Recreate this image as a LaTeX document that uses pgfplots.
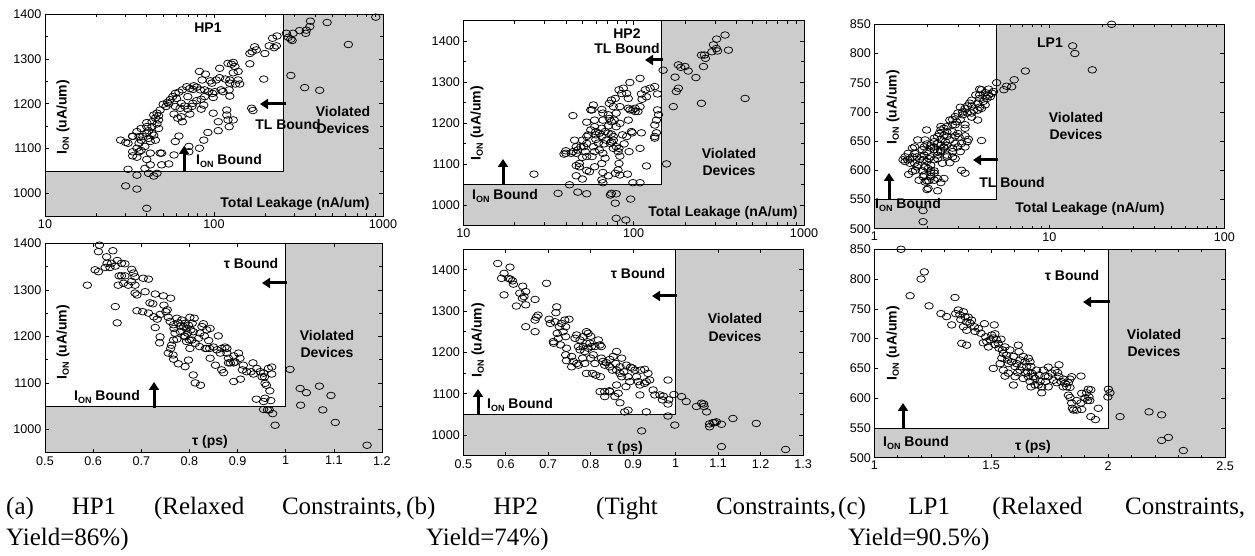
\documentclass[border=0pt]{standalone}
\usepackage{fontspec}
\setmainfont{Liberation Sans}
\newfontfamily\capfont{Liberation Serif}
\usepackage{pgfplots}
\pgfplotsset{compat=1.18}
\usetikzlibrary{arrows.meta}
\definecolor{shade}{gray}{0.80}
\newcommand\ann{\fontsize{14}{16}\selectfont\bfseries}
\newcommand\ION{I\raisebox{-0.3ex}{\fontsize{9}{9}\selectfont ON}}
\newcommand\capsty{\capfont\fontsize{25}{31}\selectfont}
\tikzset{arr/.style={-{Triangle[length=8pt,width=10pt]}, line width=3pt}}
\pgfplotsset{
  panel/.style={
    scale only axis,
    anchor=south west,
    axis on top,
    axis background/.style={fill=shade},
    tick align=inside,
    major tick length=4pt,
    minor tick length=3pt,
    tick style={black, line width=0.6pt},
    axis line style={line width=0.8pt},
    ticklabel style={font=\fontsize{12.6}{14}\selectfont},
    /pgf/number format/assume math mode=true,
    /pgf/number format/1000 sep={},
    clip mode=individual,
  },
  pts/.style={only marks, mark=o, mark size=3.3pt,
    mark options={xscale=1.3, line width=0.75pt, black}},
  white box/.style={fill=white, draw=none, mark=none},
  bnd/.style={black, line width=0.8pt, mark=none},
}
\begin{document}
\begin{tikzpicture}[x=1pt,y=1pt]
\useasboundingbox (0pt,0pt) rectangle (1255pt,556pt);
%================ A1
\begin{axis}[panel, at={(45pt,340pt)}, width=338pt, height=202pt,
  xmode=log, xmin=10, xmax=1000, ymin=950, ymax=1400,
  log ticks with fixed point, xtick={10,100,1000},
  ytick={1000,1100,1200,1300,1400}, minor y tick num=1]
\addplot[white box] coordinates {(10,1050)(259,1050)(259,1400)(10,1400)(10,1050)};
\addplot[bnd] coordinates {(10,1050)(259,1050)(259,1400)};
\addplot[pts] coordinates {
(906,1393)(467,1381)(372,1384)(369,1372)(349,1357)(352,1364)(321,1363)(294,1357)(268,1357)(275,1348)(285,1344)(290,1341)(624,1332)(285,1263)(344,1236)(422,1230)(236,1351)(222,1346)(234,1329)(212,1329)(227,1325)(200,1312)(174,1327)(168,1316)(163,1312)(178,1320)(163,1289)(197,1255)(167,1190)(170,1185)(130,1292)(127,1288)(121,1290)(133,1283)(139,1272)(130,1269)(139,1253)(134,1244)(142,1244)(124,1246)(123,1231)(108,1279)(117,1255)(108,1258)(124,1253)(103,1253)(101,1227)(110,1231)(113,1227)(124,1217)(119,1186)(119,1175)(121,1164)(130,1164)(123,1149)(106,1140)(92,1136)(82,1101)(87,1119)(106,1160)(99,1179)(97,1246)(89,1266)(95,1251)(82,1272)(85,1253)(79,1237)(75,1232)(83,1231)(88,1231)(93,1227)(98,1223)(99,1214)(88,1216)(84,1210)(79,1207)(75,1201)(74,1194)(70,1188)(84,1188)(87,1197)(72,1177)(67,1195)(64,1201)(70,1216)(72,1234)(76,1240)(69,1238)(65,1231)(62,1226)(59,1223)(57,1216)(60,1212)(55,1209)(53,1203)(54,1200)(59,1194)(63,1190)(58,1177)(61,1168)(65,1160)(64,1171)(62,1128)(59,1116)(58,1086)(71,1093)(71,1105)(50,1199)(52,1194)(48,1186)(46,1179)(47,1173)(44,1175)(45,1168)(47,1164)(46,1155)(43,1160)(43,1149)(47,1145)(41,1140)(40,1134)(38,1127)(41,1123)(44,1130)(45,1119)(36,1127)(37,1119)(36,1112)(39,1105)(35,1101)(37,1096)(33,1093)(33,1084)(35,1081)(36,1093)(33,1127)(35,1138)(37,1145)(40,1149)(40,1158)(43,1134)(42,1116)(31,1112)(30,1114)(28,1119)(33,1128)(42,1090)(48,1090)(40,1076)(42,1064)(39,1056)(41,1045)(44,1039)(46,1045)(35,1041)(31,1054)(30,1017)(35,1010)(40,967)(49,1064)(54,1066)(49,1090)
};
\end{axis}
%================ A2
\begin{axis}[panel, at={(45pt,103.3pt)}, width=337pt, height=209.4pt,
  xmin=0.5, xmax=1.2, ymin=950, ymax=1400,
  xtick={0.5,0.6,0.7,0.8,0.9,1,1.1,1.2},
  ytick={1000,1100,1200,1300,1400}, minor y tick num=1]
\addplot[white box] coordinates {(0.5,1050)(1,1050)(1,1400)(0.5,1400)(0.5,1050)};
\addplot[bnd] coordinates {(0.5,1050)(1,1050)(1,1400)};
\addplot[pts] coordinates {
(0.613,1396)(0.611,1382)(0.641,1384)(0.604,1343)(0.611,1339)(0.588,1310)(0.628,1371)(0.629,1357)(0.638,1357)(0.625,1348)(0.635,1348)(0.646,1351)(0.650,1363)(0.659,1357)(0.666,1356)(0.654,1330)(0.659,1330)(0.666,1330)(0.652,1310)(0.663,1314)(0.673,1310)(0.680,1344)(0.684,1336)(0.687,1328)(0.680,1318)(0.687,1310)(0.704,1325)(0.715,1323)(0.646,1264)(0.650,1229)(0.687,1293)(0.691,1289)(0.708,1296)(0.729,1291)(0.746,1287)(0.761,1282)(0.691,1255)(0.703,1253)(0.718,1272)(0.724,1270)(0.715,1250)(0.726,1242)(0.733,1237)(0.729,1219)(0.739,1247)(0.747,1267)(0.751,1253)(0.756,1241)(0.754,1257)(0.760,1232)(0.767,1225)(0.768,1217)(0.774,1239)(0.777,1229)(0.781,1222)(0.784,1235)(0.788,1221)(0.791,1228)(0.793,1217)(0.798,1224)(0.801,1241)(0.803,1214)(0.806,1228)(0.808,1210)(0.810,1239)(0.796,1207)(0.789,1201)(0.781,1210)(0.770,1207)(0.774,1194)(0.767,1192)(0.763,1181)(0.761,1174)(0.756,1164)(0.766,1160)(0.767,1151)(0.777,1141)(0.739,1199)(0.738,1186)(0.791,1199)(0.794,1189)(0.800,1192)(0.805,1192)(0.801,1174)(0.812,1185)(0.819,1196)(0.822,1207)(0.826,1221)(0.829,1227)(0.836,1214)(0.843,1217)(0.831,1201)(0.840,1191)(0.821,1178)(0.833,1174)(0.836,1174)(0.842,1174)(0.850,1177)(0.857,1171)(0.860,1201)(0.867,1174)(0.874,1177)(0.878,1174)(0.864,1164)(0.878,1164)(0.881,1153)(0.892,1158)(0.885,1143)(0.881,1143)(0.892,1143)(0.905,1153)(0.902,1164)(0.895,1145)(0.912,1138)(0.932,1143)(0.940,1131)(0.919,1124)(0.928,1124)(0.933,1119)(0.947,1124)(0.954,1121)(0.951,1113)(0.956,1113)(0.964,1131)(0.971,1134)(0.971,1119)(0.957,1099)(0.960,1095)(0.967,1083)(0.939,1065)(0.954,1060)(0.957,1067)(0.969,1062)(0.954,1043)(0.962,1042)(0.966,1042)(0.973,1034)(0.978,1009)(1.009,1129)(1.030,1088)(1.043,1079)(1.070,1093)(1.094,1073)(1.031,1052)(1.077,1042)(1.103,1015)(1.169,966)(0.808,1117)(0.812,1100)(0.823,1095)(0.798,1149)(0.791,1135)(0.906,1108)(0.892,1103)(0.867,1128)(0.871,1122)(0.910,1128)(0.854,1138)(0.843,1153)
};
\end{axis}
%================ B1
\begin{axis}[panel, at={(463.3pt,330.7pt)}, width=340.7pt, height=204.6pt,
  xmode=log, xmin=10, xmax=1000, ymin=950, ymax=1450,
  log ticks with fixed point, xtick={10,100,1000},
  ytick={1000,1100,1200,1300,1400}, minor y tick num=1]
\addplot[white box] coordinates {(10,1050)(146,1050)(146,1450)(10,1450)(10,1050)};
\addplot[bnd] coordinates {(10,1050)(146,1050)(146,1450)};
\addplot[pts] coordinates {
(344,1415)(307,1405)(360,1378)(306,1382)(294,1391)(288,1374)(311,1376)(250,1366)(260,1366)(264,1358)(257,1338)(232,1311)(451,1260)(250,1248)(200,1338)(183,1342)(189,1336)(209,1327)(175,1312)(183,1285)(178,1277)(171,1240)(156,1100)(149,1329)(109,1309)(133,1289)(138,1271)(125,1285)(117,1281)(111,1271)(119,1264)(112,1258)(109,1240)(102,1236)(106,1228)(138,1232)(140,1220)(136,1207)(133,1195)(136,1176)(133,1167)(133,1163)(111,1176)(109,1138)(119,1095)(109,1054)(99,1054)(95,1299)(87,1285)(91,1272)(93,1260)(82,1281)(85,1272)(93,1236)(95,1232)(99,1232)(102,1228)(93,1207)(97,1179)(98,1176)(91,1167)(88,1149)(94,1130)(83,1119)(82,1101)(92,1075)(83,1073)(81,1085)(78,1077)(96,1014)(78,1004)(79,967)(90,963)(73,1024)(66,1079)(65,1061)(66,1054)(71,1071)(74,1028)(79,1027)(79,1142)(82,1138)(76,1138)(81,1130)(74,1154)(86,1171)(76,1167)(79,1191)(83,1199)(77,1207)(79,1224)(83,1240)(76,1240)(72,1248)(74,1256)(78,1260)(71,1220)(72,1211)(74,1203)(71,1193)(68,1179)(71,1175)(74,1173)(76,1158)(69,1158)(73,1150)(65,1167)(67,1149)(63,1134)(66,1126)(68,1114)(65,1101)(59,1093)(57,1118)(59,1130)(58,1142)(62,1151)(60,1160)(63,1175)(65,1187)(59,1191)(60,1179)(59,1207)(66,1207)(66,1224)(65,1233)(57,1232)(58,1244)(60,1171)(54,1171)(56,1183)(53,1167)(53,1150)(50,1158)(51,1142)(52,1130)(53,1118)(53,1202)(56,1232)(49,1142)(47,1134)(46,1126)(46,1142)(44,1130)(50,1116)(48,1093)(46,1096)(48,1101)(46,1071)(55,1081)(53,1084)(50,1063)(43,1126)(40,1126)(39,1124)(40,1132)(45,1158)(44,1218)(42,1049)(47,1031)(53,1027)(36,1028)(26,1075)
};
\end{axis}
%================ B2
\begin{axis}[panel, at={(463.3pt,100.3pt)}, width=339.7pt, height=206.7pt,
  xmin=0.5, xmax=1.3, ymin=950, ymax=1450,
  xtick={0.5,0.6,0.7,0.8,0.9,1,1.1,1.2,1.3},
  ytick={1000,1100,1200,1300,1400}, minor y tick num=1]
\addplot[white box] coordinates {(0.5,1050)(1,1050)(1,1450)(0.5,1450)(0.5,1050)};
\addplot[bnd] coordinates {(0.5,1050)(1,1050)(1,1450)};
\addplot[pts] coordinates {
(0.581,1415)(0.610,1406)(0.596,1391)(0.590,1379)(0.606,1379)(0.611,1377)(0.616,1373)(0.618,1365)(0.596,1339)(0.640,1360)(0.696,1367)(0.633,1343)(0.647,1347)(0.643,1335)(0.639,1331)(0.647,1315)(0.625,1312)(0.669,1328)(0.647,1262)(0.669,1250)(0.669,1278)(0.672,1285)(0.676,1290)(0.702,1280)(0.705,1270)(0.720,1310)(0.718,1296)(0.716,1274)(0.713,1222)(0.712,1226)(0.724,1234)(0.721,1246)(0.726,1262)(0.731,1270)(0.739,1278)(0.749,1280)(0.741,1262)(0.735,1250)(0.741,1238)(0.729,1218)(0.743,1210)(0.741,1194)(0.743,1180)(0.755,1190)(0.759,1178)(0.755,1165)(0.767,1173)(0.763,1234)(0.767,1242)(0.775,1230)(0.782,1238)(0.790,1250)(0.794,1246)(0.800,1239)(0.771,1214)(0.775,1206)(0.782,1214)(0.786,1202)(0.790,1222)(0.798,1222)(0.802,1214)(0.794,1210)(0.781,1186)(0.786,1173)(0.771,1169)(0.806,1194)(0.810,1173)(0.800,1186)(0.810,1214)(0.822,1218)(0.825,1214)(0.818,1230)(0.825,1186)(0.829,1178)(0.833,1169)(0.837,1175)(0.845,1183)(0.853,1190)(0.845,1165)(0.851,1157)(0.859,1173)(0.869,1165)(0.873,1186)(0.861,1157)(0.869,1149)(0.873,1141)(0.878,1153)(0.861,1202)(0.884,1169)(0.888,1141)(0.892,1129)(0.894,1164)(0.898,1162)(0.904,1157)(0.908,1141)(0.912,1129)(0.916,1121)(0.918,1157)(0.927,1159)(0.935,1149)(0.931,1129)(0.927,1125)(0.939,1133)(0.947,1109)(0.951,1097)(0.963,1097)(0.971,1094)(0.969,1085)(0.984,1085)(0.982,1075)(0.982,1133)(0.996,1098)(0.916,1097)(0.883,1117)(0.861,1121)(0.865,1101)(0.857,1093)(0.833,1093)(0.845,1105)(0.869,1078)(0.880,1056)(0.888,1060)(0.833,1105)(0.822,1105)(0.823,1141)(0.812,1145)(0.804,1149)(0.790,1149)(0.844,1107)(0.931,1056)(0.982,1046)(0.998,1024)(0.920,1010)(1.014,1093)(1.025,1081)(1.049,1069)(1.061,1077)(1.067,1069)(1.073,1056)(1.066,1075)(1.080,1027)(1.088,1030)(1.080,1020)(1.092,1030)(1.096,1032)(1.108,1026)(1.135,1040)(1.190,1028)(1.108,972)(1.259,965)
};
\end{axis}
%================ C1
\begin{axis}[panel, at={(874.3pt,327.3pt)}, width=350pt, height=204.4pt,
  xmode=log, xmin=1, xmax=100, ymin=500, ymax=850,
  log ticks with fixed point, xtick={1,10,100},
  ytick={500,550,600,650,700,750,800,850}]
\addplot[white box] coordinates {(1,550)(5,550)(5,850)(1,850)(1,550)};
\addplot[bnd] coordinates {(1,550)(5,550)(5,850)};
\addplot[pts] coordinates {
(22.7,850)(13.6,813)(14.0,800)(17.6,772)(7.3,770)(6.3,755)(6.1,743)(5.7,744)(5.5,738)(5.0,750)(4.7,732)(4.5,739)(4.3,733)(4.3,726)(4.1,738)(4.0,739)(4.0,729)(3.8,729)(4.0,723)(4.4,723)(4.2,718)(3.9,715)(4.0,708)(4.3,712)(3.6,720)(3.5,715)(3.4,710)(3.6,710)(3.3,706)(3.4,698)(3.2,700)(3.2,695)(3.1,708)(3.0,698)(2.9,692)(3.1,687)(2.95,683)(2.8,687)(2.7,686)(2.8,678)(2.9,678)(2.6,675)(2.5,672)(2.6,666)(2.8,666)(3.0,663)(2.9,659)(3.05,657)(3.3,659)(3.3,672)(3.3,678)(3.9,686)(4.1,651)(2.4,675)(2.4,669)(2.35,663)(2.5,660)(2.6,658)(2.7,652)(2.55,649)(2.4,653)(2.3,658)(2.2,655)(2.2,649)(2.3,646)(2.4,643)(2.5,640)(2.6,643)(2.2,640)(2.1,642)(2.1,638)(2.2,635)(2.3,632)(2.4,634)(2.5,638)(2.3,626)(2.1,623)(2.05,620)(2.2,618)(2.3,620)(2.45,612)(2.4,632)(1.99,669)(1.95,652)(2.0,645)(1.93,640)(1.88,635)(2.0,632)(1.93,626)(1.86,623)(1.82,619)(1.9,618)(2.0,615)(2.1,609)(1.95,606)(2.03,603)(2.1,600)(2.2,599)(2.2,595)(2.1,596)(2.3,586)(2.4,579)(2.5,586)(2.2,583)(2.1,589)(2.0,582)(1.95,580)(2.03,569)(2.0,567)(2.3,565)(2.05,582)(1.77,652)(1.7,640)(1.65,638)(1.7,629)(1.75,623)(1.65,623)(1.6,619)(1.6,612)(1.7,612)(1.75,606)(1.72,600)(1.78,609)(1.56,629)(1.55,618)(1.5,615)(1.65,598)(1.57,593)(1.8,583)(1.88,599)(1.5,623)(1.46,618)(1.9,589)(1.93,592)(1.9,531)(1.9,512)(3.3,595)(3.15,600)(2.9,620)(2.8,623)(2.7,613)(2.8,632)(3.1,632)(3.0,640)(3.15,646)(2.9,646)(2.8,638)(2.6,626)(2.6,623)(3.3,640)(3.4,649)(3.45,653)(3.6,698)(3.6,691)(3.7,703)(4.5,729)(4.6,726)(4.8,735)(3.9,703)(4.1,706)
};
\end{axis}
%================ C2
\begin{axis}[panel, at={(874.3pt,98.3pt)}, width=350.7pt, height=208.4pt,
  xmin=1, xmax=2.5, ymin=500, ymax=850,
  xtick={1,1.5,2,2.5}, minor x tick num=4,
  ytick={500,550,600,650,700,750,800,850}]
\addplot[white box] coordinates {(1,550)(2,550)(2,850)(1,850)(1,550)};
\addplot[bnd] coordinates {(1,550)(2,550)(2,850)};
\addplot[pts] coordinates {
(1.114,850)(1.214,812)(1.200,800)(1.153,772)(1.234,755)(1.285,742)(1.309,737)(1.331,723)(1.345,769)(1.348,742)(1.359,748)(1.366,740)(1.370,732)(1.381,745)(1.388,737)(1.395,728)(1.402,736)(1.409,726)(1.416,731)(1.381,720)(1.395,714)(1.428,720)(1.431,712)(1.445,717)(1.456,709)(1.471,725)(1.374,692)(1.395,689)(1.476,703)(1.481,695)(1.466,693)(1.488,686)(1.495,698)(1.502,706)(1.516,708)(1.513,723)(1.509,701)(1.523,698)(1.516,690)(1.530,692)(1.533,684)(1.542,699)(1.548,681)(1.559,686)(1.552,675)(1.566,672)(1.545,667)(1.538,658)(1.509,650)(1.570,664)(1.580,681)(1.573,658)(1.587,661)(1.595,670)(1.602,653)(1.609,658)(1.616,689)(1.619,678)(1.623,664)(1.630,653)(1.623,647)(1.613,643)(1.595,622)(1.637,670)(1.645,661)(1.652,653)(1.656,644)(1.659,667)(1.666,661)(1.670,653)(1.673,642)(1.680,636)(1.659,636)(1.647,642)(1.637,633)(1.666,628)(1.670,619)(1.688,622)(1.694,647)(1.704,639)(1.709,628)(1.716,609)(1.723,647)(1.730,637)(1.744,636)(1.759,642)(1.773,647)(1.784,643)(1.790,636)(1.766,630)(1.780,626)(1.799,628)(1.808,632)(1.816,625)(1.823,619)(1.830,626)(1.837,632)(1.844,636)(1.808,619)(1.830,605)(1.837,601)(1.844,592)(1.847,583)(1.852,580)(1.866,580)(1.866,596)(1.884,592)(1.887,608)(1.884,637)(1.901,600)(1.908,609)(1.915,615)(1.918,602)(1.922,596)(1.912,596)(1.887,581)(1.926,614)(1.926,569)(1.946,564)(1.958,583)(1.999,602)(2.001,615)(2.008,609)(2.051,569)(2.175,577)(2.229,572)(2.229,529)(2.258,534)(2.322,512)(1.602,636)(1.573,642)(1.552,647)(1.559,637)(1.733,628)(1.744,619)(1.716,619)(1.701,622)(1.688,633)(1.837,618)(1.744,652)(1.790,656)
};
\end{axis}
%================ annotations A
\node[font=\ann] at (208pt,528pt) {HP1};
\node[font=\ann] at (343pt,444pt) {Violated};
\node[font=\ann] at (343pt,427pt) {Devices};
\node[font=\ann] at (288pt,431pt) {TL Bound};
\node[font=\ann] at (229pt,395pt) {\ION\ Bound};
\node[font=\ann] at (295pt,352pt) {Total Leakage (nA/um)};
\node[font=\ann, rotate=90] at (63pt,439pt) {\ION\ (uA/um)};
\draw[arr] (286pt,452pt) -- (260pt,452pt);
\draw[arr] (184pt,384pt) -- (184pt,410pt);
\node[font=\ann] at (251pt,292pt) {τ Bound};
\node[font=\ann] at (327pt,220pt) {Violated};
\node[font=\ann] at (327pt,203pt) {Devices};
\node[font=\ann] at (107pt,159pt) {\ION\ Bound};
\node[font=\ann] at (210pt,114pt) {τ (ps)};
\node[font=\ann, rotate=90] at (63pt,214pt) {\ION\ (uA/um)};
\draw[arr] (287pt,273pt) -- (262pt,273pt);
\draw[arr] (154pt,148pt) -- (154pt,174pt);
%================ annotations B
\node[font=\ann] at (627pt,522pt) {HP2};
\node[font=\ann] at (627pt,507pt) {TL Bound};
\node[font=\ann] at (729pt,402pt) {Violated};
\node[font=\ann] at (729pt,385pt) {Devices};
\node[font=\ann] at (505pt,360pt) {\ION\ Bound};
\node[font=\ann] at (723pt,343pt) {Total Leakage (nA/um)};
\node[font=\ann, rotate=90] at (477pt,433pt) {\ION\ (uA/um)};
\draw[arr] (663pt,496pt) -- (645pt,496pt);
\draw[arr] (503pt,371pt) -- (503pt,397pt);
\node[font=\ann] at (638pt,282pt) {τ Bound};
\node[font=\ann] at (735pt,237pt) {Violated};
\node[font=\ann] at (735pt,219pt) {Devices};
\node[font=\ann] at (520pt,151pt) {\ION\ Bound};
\node[font=\ann] at (625pt,108pt) {τ (ps)};
\node[font=\ann, rotate=90] at (478pt,216pt) {\ION\ (uA/um)};
\draw[arr] (677pt,260pt) -- (652pt,260pt);
\draw[arr] (478pt,141pt) -- (478pt,167pt);
%================ annotations C
\node[font=\ann] at (1050pt,513pt) {LP1};
\node[font=\ann] at (1076pt,438pt) {Violated};
\node[font=\ann] at (1076pt,421pt) {Devices};
\node[font=\ann] at (1012pt,373pt) {TL Bound};
\node[font=\ann] at (908pt,351pt) {\ION\ Bound};
\node[font=\ann] at (1090pt,347pt) {Total Leakage (nA/um)};
\node[font=\ann, rotate=90] at (893pt,449pt) {\ION\ (uA/um)};
\draw[arr] (998pt,396pt) -- (973pt,396pt);
\draw[arr] (889pt,357pt) -- (889pt,383pt);
\node[font=\ann] at (1072pt,280pt) {τ Bound};
\node[font=\ann] at (1154pt,221pt) {Violated};
\node[font=\ann] at (1154pt,204pt) {Devices};
\node[font=\ann] at (916pt,113pt) {\ION\ Bound};
\node[font=\ann] at (1033pt,109pt) {τ (ps)};
\node[font=\ann, rotate=90] at (893pt,213pt) {\ION\ (uA/um)};
\draw[arr] (1110pt,254pt) -- (1083pt,254pt);
\draw[arr] (903pt,127pt) -- (903pt,153pt);
%================ captions
\node[anchor=base west, inner sep=0] at (6pt,41pt) {\capsty\makebox[396pt][s]{(a) HP1 (Relaxed Constraints,}};
\node[anchor=base west, inner sep=0] at (6pt,10pt) {\capsty Yield=86\%)};
\node[anchor=base west, inner sep=0] at (406pt,41pt) {\capsty\makebox[430pt][s]{(b) HP2 (Tight Constraints,}};
\node[anchor=base west, inner sep=0] at (426pt,10pt) {\capsty Yield=74\%)};
\node[anchor=base west, inner sep=0] at (838pt,41pt) {\capsty\makebox[407pt][s]{(c) LP1 (Relaxed Constraints,}};
\node[anchor=base west, inner sep=0] at (848pt,10pt) {\capsty Yield=90.5\%)};
\end{tikzpicture}
\end{document}
